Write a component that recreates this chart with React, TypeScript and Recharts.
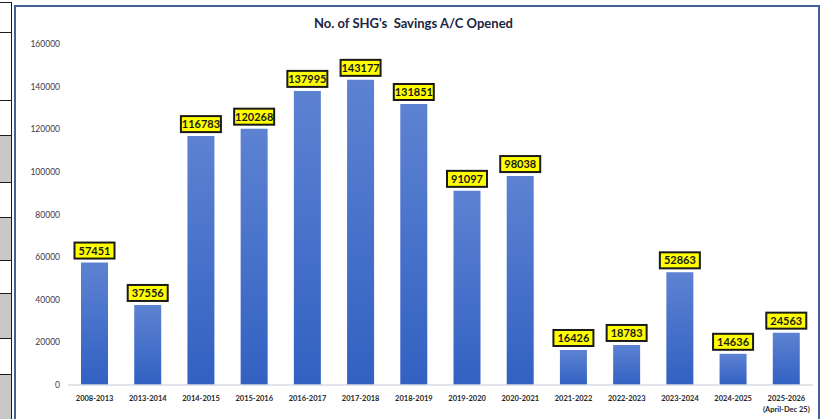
import React from "react";
import { BarChart, Bar, XAxis, YAxis, LabelList } from "recharts";

const years = [
  "2008-2013",
  "2013-2014",
  "2014-2015",
  "2015-2016",
  "2016-2017",
  "2017-2018",
  "2018-2019",
  "2019-2020",
  "2020-2021",
  "2021-2022",
  "2022-2023",
  "2023-2024",
  "2024-2025",
  "2025-2026",
];
const accounts = [
  57451, 37556, 116783, 120268, 137995, 143177, 131851, 91097, 98038, 16426,
  18783, 52863, 14636, 24563,
];
const yTicks = [0, 20000, 40000, 60000, 80000, 100000, 120000, 140000, 160000];
const lastNote = "(April-Dec 25)";

// spreadsheet row bands visible at the left edge (top, bottom, grey?)
const rows: [number, number, boolean][] = [
  [2, 32, false],
  [32, 100, false],
  [100, 135, false],
  [135, 182, true],
  [182, 217, false],
  [217, 260, true],
  [260, 293, false],
  [293, 338, true],
  [338, 374, false],
  [374, 419, true],
];

const data = years.map((y, i) => ({ year: y, value: accounts[i] }));

const FONT = "Lato, 'Open Sans', sans-serif";

function YearTick(props: any) {
  const { x, y, payload, index } = props;
  return (
    <g>
      <text
        x={x}
        y={y + 8}
        textAnchor="middle"
        fontSize={7.5}
        fontWeight={700}
        fill="#262626"
        fontFamily={FONT}
      >
        {payload.value}
      </text>
      {index === years.length - 1 && (
        <text
          x={x}
          y={y + 19}
          textAnchor="middle"
          fontSize={7.5}
          fontWeight={700}
          fill="#262626"
          fontFamily={FONT}
        >
          {lastNote}
        </text>
      )}
    </g>
  );
}

function ValueBox(props: any) {
  const { x, y, width, value } = props;
  const cx = x + width / 2;
  return (
    <g>
      <rect
        x={cx - 20}
        y={y - 20}
        width={40}
        height={16}
        fill="#ffff00"
        stroke="#1a1a1a"
        strokeWidth={2}
      />
      <text
        x={cx}
        y={y - 8}
        textAnchor="middle"
        fontSize={11}
        fontWeight={700}
        fill="#1a1a1a"
        fontFamily={FONT}
      >
        {value}
      </text>
    </g>
  );
}

export default function App() {
  return (
    <div
      style={{
        position: "fixed",
        left: 0,
        top: 0,
        width: 827,
        height: 419,
        background: "#fff",
        overflow: "hidden",
      }}
    >
      {rows.map(([t, b, grey], i) => (
        <div
          key={i}
          style={{
            position: "absolute",
            left: 0,
            top: t,
            width: 12,
            height: b - t,
            background: grey ? "#c8c8c8" : "#fff",
            borderTop: "1.5px solid #1a1a1a",
            borderRight: "1.5px solid #1a1a1a",
            boxSizing: "border-box",
          }}
        />
      ))}
      <div
        style={{
          position: "absolute",
          left: 14,
          top: 5,
          width: 806,
          height: 430,
          border: "2px solid #44609a",
          boxSizing: "border-box",
        }}
      />
      <div
        style={{
          position: "absolute",
          left: 0,
          width: 827,
          top: 15,
          textAlign: "center",
          fontFamily: FONT,
          fontWeight: 700,
          fontSize: 13,
          color: "#1c2540",
          whiteSpace: "pre",
        }}
      >
        {"No. of SHG's  Savings A/C Opened"}
      </div>
      <div style={{ position: "absolute", left: 0, top: 0 }}>
        <BarChart
          width={827}
          height={419}
          data={data}
          margin={{ top: 44, right: 14, bottom: 0, left: 14 }}
          barCategoryGap={0}
        >
          <defs>
            <linearGradient id="barFill" x1="0" y1="0" x2="0" y2="1">
              <stop offset="0%" stopColor="#5d82d2" />
              <stop offset="100%" stopColor="#3261c2" />
            </linearGradient>
          </defs>
          <XAxis
            dataKey="year"
            interval={0}
            height={34}
            tickLine={false}
            axisLine={{ stroke: "#d9dbe3", strokeWidth: 1.5 }}
            tick={<YearTick />}
          />
          <YAxis
            width={54}
            domain={[0, 160000]}
            ticks={yTicks}
            interval={0}
            axisLine={false}
            tickLine={false}
            tick={{
              fontSize: 8.5,
              fill: "#3d3a50",
              fontFamily: FONT,
            }}
          />
          <Bar
            dataKey="value"
            barSize={27}
            fill="url(#barFill)"
            isAnimationActive={false}
          >
            <LabelList dataKey="value" content={<ValueBox />} />
          </Bar>
        </BarChart>
      </div>
    </div>
  );
}
